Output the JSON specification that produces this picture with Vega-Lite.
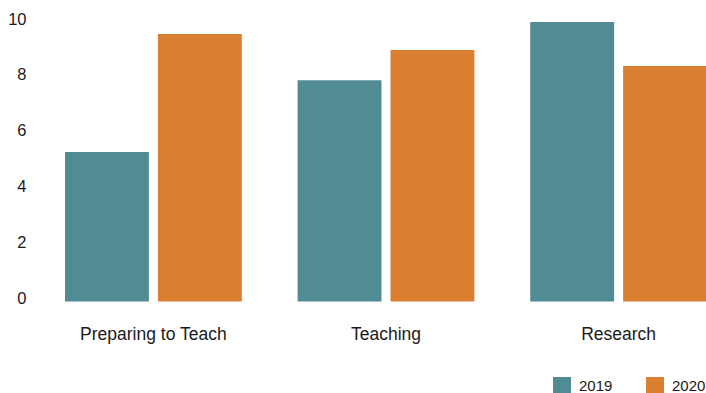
{
  "$schema": "https://vega.github.io/schema/vega-lite/v6.json",
  "autosize": {"type": "none"},
  "width": 642,
  "height": 279.5,
  "padding": {"left": 65, "top": 22, "right": 0, "bottom": 91.5},
  "background": "white",
  "config": {
    "view": {"stroke": null},
    "font": "Liberation Sans",
    "axis": {"grid": false, "domain": false, "ticks": false, "labelColor": "#1a1a1a"}
  },
  "data": {
    "values": [
      {"category": "Preparing to Teach", "year": "2019", "value": 5.35},
      {"category": "Preparing to Teach", "year": "2020", "value": 9.57},
      {"category": "Teaching", "year": "2019", "value": 7.92},
      {"category": "Teaching", "year": "2020", "value": 9.0},
      {"category": "Research", "year": "2019", "value": 10.0},
      {"category": "Research", "year": "2020", "value": 8.43}
    ]
  },
  "mark": {"type": "bar"},
  "encoding": {
    "x": {
      "field": "category",
      "type": "nominal",
      "sort": ["Preparing to Teach", "Teaching", "Research"],
      "scale": {"paddingInner": 0.24, "paddingOuter": 0},
      "axis": {"title": null, "labelAngle": 0, "labelFontSize": 17.5, "labelPadding": 24}
    },
    "xOffset": {
      "field": "year",
      "type": "nominal",
      "scale": {"paddingInner": 0.097, "paddingOuter": 0}
    },
    "y": {
      "field": "value",
      "type": "quantitative",
      "scale": {"domain": [0, 10], "nice": false},
      "axis": {"title": null, "values": [0, 2, 4, 6, 8, 10], "labelFontSize": 16.5, "labelPadding": 39, "labelOffset": -3}
    },
    "color": {
      "field": "year",
      "type": "nominal",
      "scale": {"domain": ["2019", "2020"], "range": ["#518C94", "#DB8031"]},
      "legend": {
        "title": null,
        "orient": "none",
        "direction": "horizontal",
        "legendX": 488,
        "legendY": 355,
        "symbolType": "square",
        "symbolSize": 324,
        "symbolStrokeWidth": 0,
        "labelFontSize": 15,
        "labelOffset": 8,
        "columnPadding": 33,
        "labelColor": "#1a1a1a"
      }
    }
  }
}
